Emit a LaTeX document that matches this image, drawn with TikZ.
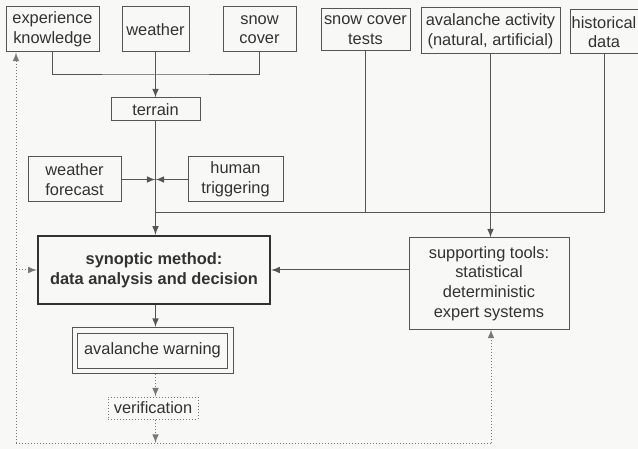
\documentclass[tikz,border=0pt]{standalone}
\usepackage{fontspec}
\setmainfont{Liberation Sans}
\usetikzlibrary{arrows,fit}
\definecolor{inkc}{RGB}{50,50,50}
\definecolor{boxc}{RGB}{85,85,85}
\definecolor{dotc}{RGB}{120,120,120}
\definecolor{bgc}{RGB}{248,248,246}

\begin{document}
\begin{tikzpicture}[x=0.5pt, y=-0.5pt, font=\fontsize{8.2}{9.8}\selectfont, color=inkc]
    \tikzstyle{bnode} = [draw=boxc, line width=0.5pt, rectangle, inner sep=0pt, align=center]
    \tikzstyle{snode} = [draw=inkc, line width=1.2pt, rectangle, inner sep=0pt, align=center, font=\fontsize{8.2}{9.8}\selectfont\bfseries]
    \tikzstyle{dnode} = [draw=dotc, densely dotted, line width=0.5pt, rectangle, inner sep=0pt, align=center]
    \tikzstyle{line} = [draw=boxc, line width=0.5pt]
    \tikzstyle{fline} = [draw=dotc, densely dotted, line width=0.5pt]
    \fill[bgc] (0,0) rectangle (638,449);
    \useasboundingbox (0,0) rectangle (638,449);

    % input boxes
    \node[bnode, minimum width=46.5pt, minimum height=22.5pt] (exp) at (52.5, 29.5) {experience\\knowledge};
    \node[bnode, minimum width=33.5pt, minimum height=22.5pt] (wea) at (155.5, 29.5) {weather};
    \node[bnode, minimum width=36.5pt, minimum height=22.5pt] (snow) at (259.5, 29.5) {snow\\cover};
    \node[bnode, minimum width=44.5pt, minimum height=21pt] (tests) at (365.5, 30) {snow cover\\tests};
    \node[bnode, minimum width=69.5pt, minimum height=23pt] (act) at (490.5, 31) {avalanche activity\\(natural, artificial)};
    \node[bnode, minimum width=34pt, minimum height=22pt] (hist) at (604, 32) {historical\\data};

    % middle
    \node[bnode, minimum width=44.5pt, minimum height=11.5pt] (terrain) at (155.5, 109.5) {terrain};
    \node[bnode, minimum width=46.5pt, minimum height=22.5pt] (wf) at (74.5, 179.5) {weather\\forecast};
    \node[bnode, minimum width=47.5pt, minimum height=22.5pt] (ht) at (235.5, 179.5) {human\\triggering};
    \node[snode, minimum width=116pt, minimum height=34pt] (syn) at (154, 270) {synoptic method:\\data analysis and decision};
    \node[bnode, minimum width=80pt, minimum height=45.5pt] (sup) at (489, 283.5) {supporting tools:\\statistical\\deterministic\\expert systems};

    % output
    \node[bnode, minimum width=75pt, minimum height=17.5pt] (warn) at (152.5, 350.5) {avalanche warning};
    \node[bnode, inner sep=2.5pt, fit=(warn)] (warnbox) {};
    \node[dnode, minimum width=45pt, minimum height=11pt] (ver) at (153, 408) {verification};

    \coordinate (j1) at (155.5, 75);
    \coordinate (j2) at (155.5, 179.5);
    \coordinate (j3) at (155.5, 213);
    \coordinate (fb) at (16, 443);
    \coordinate (fr) at (491, 443);

    \draw[line] (exp.south) |- (j1) -| (snow.south);
    \draw[line, -latex] (wea) -- (terrain);
    \draw[line, -latex] (terrain.south) -- (terrain.south |- syn.north);
    \draw[line, -latex] (wf) -- (j2);
    \draw[line, -latex] (ht) -- (j2);
    \draw[line] (hist.south) |- (j3);
    \draw[line] (tests.south) -- (tests.south |- j3);
    \draw[line, -latex] (act.south) -- (act.south |- sup.north);
    \draw[line, -latex] (sup.west |- syn.east) -- (syn.east);
    \draw[line, -latex] (syn.south -| j2) -- (j2 |- warnbox.north);

    % feedback
    \draw[fline, -latex] (warnbox.south -| j2) -- (j2 |- ver.north);
    \draw[fline, -latex] (ver.south -| j2) -- (j2 |- fb);
    \draw[fline] (fb) -- (fr);
    \draw[fline, -latex] (fr) -- (fr |- sup.south);
    \draw[fline, -latex] (fb) -- (fb |- exp.south);
    \draw[fline, -latex] (fb |- syn.west) -- (syn.west);
\end{tikzpicture}
\end{document}
